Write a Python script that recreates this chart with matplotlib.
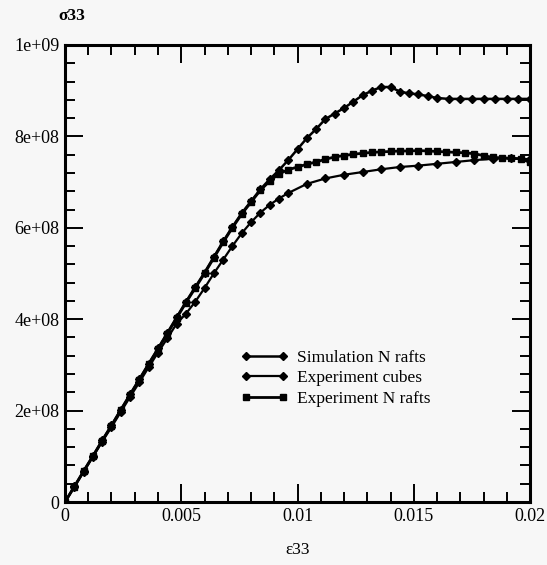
import matplotlib
matplotlib.use('Agg')
import matplotlib.pyplot as plt
from matplotlib.ticker import MultipleLocator

plt.rcParams['font.family'] = ['Liberation Serif', 'DejaVu Serif']

# Simulation N rafts
sim_eps = [0, 0.0004, 0.0008, 0.0012, 0.0016, 0.002, 0.0024, 0.0028, 0.0032, 0.0036,
           0.004, 0.0044, 0.0048, 0.0052, 0.0056, 0.006, 0.0064, 0.0068, 0.0072, 0.0076,
           0.008, 0.0084, 0.0088, 0.0092, 0.0096, 0.01, 0.0104, 0.0108, 0.0112, 0.0116,
           0.012, 0.0124, 0.0128, 0.0132, 0.0136, 0.014, 0.0144, 0.0148, 0.0152, 0.0156,
           0.016, 0.0165, 0.017, 0.0175, 0.018, 0.0185, 0.019, 0.0195, 0.02]
sim_sig = [0, 0.34, 0.68, 1.01, 1.35, 1.68, 2.02, 2.36, 2.69, 3.03,
           3.36, 3.70, 4.04, 4.38, 4.70, 5.02, 5.36, 5.70, 6.02, 6.32,
           6.58, 6.84, 7.06, 7.26, 7.48, 7.72, 7.96, 8.16, 8.38, 8.50,
           8.62, 8.76, 8.90, 9.00, 9.08, 9.08, 8.98, 8.94, 8.92, 8.88,
           8.84, 8.82, 8.82, 8.82, 8.82, 8.82, 8.82, 8.82, 8.82]

# Experiment cubes
cub_eps = [0, 0.0004, 0.0008, 0.0012, 0.0016, 0.002, 0.0024, 0.0028, 0.0032, 0.0036,
           0.004, 0.0044, 0.0048, 0.0052, 0.0056, 0.006, 0.0064, 0.0068, 0.0072, 0.0076,
           0.008, 0.0084, 0.0088, 0.0092, 0.0096, 0.0104, 0.0112, 0.012, 0.0128, 0.0136,
           0.0144, 0.0152, 0.016, 0.0168, 0.0176, 0.0184, 0.0192, 0.02]
cub_sig = [0, 0.33, 0.66, 0.99, 1.32, 1.64, 1.97, 2.30, 2.62, 2.95,
           3.27, 3.58, 3.90, 4.12, 4.38, 4.68, 5.00, 5.30, 5.60, 5.88,
           6.12, 6.33, 6.50, 6.64, 6.76, 6.96, 7.08, 7.16, 7.22, 7.28,
           7.33, 7.36, 7.40, 7.44, 7.48, 7.51, 7.52, 7.50]

# Experiment N rafts
raf_eps = [0, 0.0004, 0.0008, 0.0012, 0.0016, 0.002, 0.0024, 0.0028, 0.0032, 0.0036,
           0.004, 0.0044, 0.0048, 0.0052, 0.0056, 0.006, 0.0064, 0.0068, 0.0072, 0.0076,
           0.008, 0.0084, 0.0088, 0.0092, 0.0096, 0.01, 0.0104, 0.0108, 0.0112, 0.0116,
           0.012, 0.0124, 0.0128, 0.0132, 0.0136, 0.014, 0.0144, 0.0148, 0.0152, 0.0156,
           0.016, 0.0164, 0.0168, 0.0172, 0.0176, 0.018, 0.0184, 0.0188, 0.0192, 0.0196, 0.02]
raf_sig = [0, 0.33, 0.67, 1.00, 1.34, 1.67, 2.01, 2.34, 2.68, 3.01,
           3.35, 3.68, 4.02, 4.36, 4.68, 5.00, 5.34, 5.68, 6.00, 6.30,
           6.56, 6.82, 7.02, 7.18, 7.27, 7.33, 7.39, 7.44, 7.50, 7.55,
           7.58, 7.61, 7.63, 7.65, 7.66, 7.67, 7.68, 7.68, 7.69, 7.68,
           7.67, 7.66, 7.65, 7.64, 7.62, 7.58, 7.54, 7.53, 7.52, 7.51, 7.43]

y_ticks = [0, 2e8, 4e8, 6e8, 8e8, 1e9]
y_labels = ['0', '2e+08', '4e+08', '6e+08', '8e+08', '1e+09']
x_ticks = [0, 0.005, 0.01, 0.015, 0.02]
x_labels = ['0', '0.005', '0.01', '0.015', '0.02']

bg = '#f7f7f7'
fig = plt.figure(figsize=(5.47, 5.65), dpi=100, facecolor=bg)
ax = fig.add_axes([0.1188, 0.1115, 0.8502, 0.8089], facecolor=bg)

ax.plot(sim_eps, [s * 1e8 for s in sim_sig], color='black', lw=1.8, marker='D', ms=4.5,
        label='Simulation N rafts')
ax.plot(cub_eps, [s * 1e8 for s in cub_sig], color='black', lw=1.6, marker='D', ms=4.5,
        label='Experiment cubes')
ax.plot(raf_eps, [s * 1e8 for s in raf_sig], color='black', lw=2.0, marker='s', ms=5,
        label='Experiment N rafts')

ax.set_xlim(0, 0.02)
ax.set_ylim(0, 1e9)
ax.set_xticks(x_ticks)
ax.set_xticklabels(x_labels)
ax.set_yticks(y_ticks)
ax.set_yticklabels(y_labels)
ax.xaxis.set_minor_locator(MultipleLocator(0.001))
ax.yaxis.set_minor_locator(MultipleLocator(4e7))
ax.tick_params(which='both', direction='in', top=True, right=True, width=1.4,
               labelsize=13, pad=4)
ax.tick_params(which='major', length=13)
ax.tick_params(which='minor', length=7)
for sp in ax.spines.values():
    sp.set_linewidth(2.2)

fig.text(0.132, 0.972, 'σ33', fontsize=12.5, fontweight='bold', ha='center', va='center')
fig.text(0.545, 0.027, 'ε33', fontsize=12.5, ha='center', va='center')

ax.legend(loc='upper left', bbox_to_anchor=(0.345, 0.368), frameon=False, numpoints=2,
          handlelength=2.7, handletextpad=0.55, labelspacing=0.25, fontsize=12.5)

fig.savefig('out.png', dpi=100, facecolor=bg)
